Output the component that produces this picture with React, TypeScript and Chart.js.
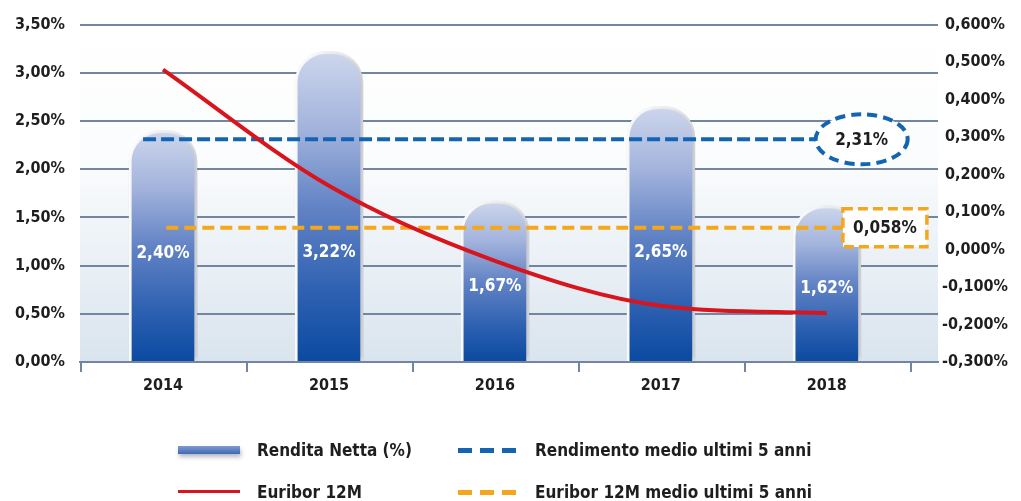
import React, { useEffect, useRef } from 'react';
import { Chart, registerables } from 'chart.js';

Chart.register(...registerables);

// ---------- data ----------
const years = ['2014', '2015', '2016', '2017', '2018'];
const renditaNetta = [2.4, 3.22, 1.67, 2.65, 1.62];
const euribor12M = [0.48, 0.17, -0.03, -0.15, -0.17];
const renditaMedia = 2.31;
const euriborMedio = 0.058;
const leftAxis = { min: 0, max: 3.5, step: 0.5 };
const rightAxis = { min: -0.3, max: 0.6, step: 0.1 };
const legendLabels = [
  'Rendita Netta (%)',
  'Rendimento medio ultimi 5 anni',
  'Euribor 12M',
  'Euribor 12M medio ultimi 5 anni',
];

// ---------- style ----------
const FONT = "'DejaVu Sans Condensed', 'Liberation Sans Narrow', 'DejaVu Sans', sans-serif";
const GRID = '#72879f';
const TEXT = '#1e1e1e';
const BLUE = '#1464b2';
const ORANGE = '#f4a61c';
const RED = '#d8141d';

const fmtComma = (v: number, d: number) => {
  const n = Math.abs(v) < 1e-9 ? 0 : v;
  return n.toFixed(d).replace('.', ',') + '%';
};

const backgroundPlugin = {
  id: 'bgGradient',
  beforeDraw(chart: any) {
    const { ctx, chartArea: a } = chart;
    if (!a) return;
    const g = ctx.createLinearGradient(0, a.top, 0, a.bottom);
    g.addColorStop(0, '#ffffff');
    g.addColorStop(0.4, '#fbfcfd');
    g.addColorStop(1, '#d9e4ee');
    ctx.save();
    ctx.fillStyle = g;
    ctx.fillRect(a.left, a.top, a.right - a.left, a.bottom - a.top);
    ctx.restore();
  },
};

const xTickMarksPlugin = {
  id: 'xTickMarks',
  afterDraw(chart: any) {
    const { ctx, scales } = chart;
    const x = scales.x;
    const bottom = chart.chartArea.bottom;
    ctx.save();
    ctx.strokeStyle = GRID;
    ctx.lineWidth = 2;
    for (let i = 0; i <= years.length; i++) {
      const px = Math.round(x.getPixelForValue(i - 0.5)) + 1;
      ctx.beginPath();
      ctx.moveTo(px, bottom);
      ctx.lineTo(px, bottom + 10);
      ctx.stroke();
    }
    ctx.restore();
  },
};

const barShadowPlugin = {
  id: 'barShadow',
  beforeDatasetDraw(chart: any, args: any) {
    if (args.index !== 0) return;
    const ctx = chart.ctx;
    ctx.save();
    ctx.shadowColor = 'rgba(40,55,80,0.35)';
    ctx.shadowBlur = 9;
    ctx.shadowOffsetX = 4;
    ctx.shadowOffsetY = 1;
  },
  afterDatasetDraw(chart: any, args: any) {
    if (args.index !== 0) return;
    chart.ctx.restore();
  },
};

const overlayPlugin = {
  id: 'overlay',
  afterDatasetsDraw(chart: any) {
    const { ctx, scales } = chart;
    const { x, y, y1 } = scales;
    ctx.save();
    // bar value labels
    const meta = chart.getDatasetMeta(0);
    ctx.fillStyle = '#ffffff';
    ctx.font = `bold 17px ${FONT}`;
    ctx.textAlign = 'center';
    ctx.textBaseline = 'middle';
    renditaNetta.forEach((v, i) => {
      const el = meta.data[i];
      const py = y.getPixelForValue(Math.min(v * 0.47, 1.14));
      ctx.fillText(fmtComma(v, 2), el.x, py);
    });

    // ellipse callout for average yield
    const ex = x.getPixelForValue(4.21);
    const ey = y.getPixelForValue(renditaMedia);
    ctx.beginPath();
    ctx.ellipse(ex, ey, 46, 25, 0, 0, Math.PI * 2);
    ctx.fillStyle = '#ffffff';
    ctx.fill();
    ctx.setLineDash([10, 6]);
    ctx.lineWidth = 4;
    ctx.strokeStyle = BLUE;
    ctx.stroke();
    ctx.setLineDash([]);
    ctx.fillStyle = TEXT;
    ctx.font = `bold 17px ${FONT}`;
    ctx.fillText(fmtComma(renditaMedia, 2), ex, ey + 1);

    // box callout for average euribor
    const bx = x.getPixelForValue(4.35);
    const by = y1.getPixelForValue(euriborMedio);
    const bw = 84;
    const bh = 38;
    ctx.fillStyle = '#ffffff';
    ctx.fillRect(bx - bw / 2, by - bh / 2, bw, bh);
    ctx.setLineDash([10, 5]);
    ctx.lineWidth = 3.5;
    ctx.strokeStyle = ORANGE;
    ctx.strokeRect(bx - bw / 2, by - bh / 2, bw, bh);
    ctx.setLineDash([]);
    ctx.fillStyle = TEXT;
    ctx.fillText(fmtComma(euriborMedio, 3), bx, by + 1);
    ctx.restore();
  },
};

function LegendSwatch({ kind }: { kind: string }) {
  const base: React.CSSProperties = { position: 'absolute', left: 0, width: 62 };
  if (kind === 'bar') {
    return (
      <div
        style={{
          ...base,
          top: -4,
          height: 8,
          background: 'linear-gradient(#7f9bd0, #3f68b0)',
          boxShadow: '1px 3px 4px rgba(40,55,80,0.35)',
        }}
      />
    );
  }
  if (kind === 'line') {
    return <div style={{ ...base, top: -2, height: 3, background: RED }} />;
  }
  const c = kind === 'blue' ? BLUE : ORANGE;
  return (
    <div
      style={{
        ...base,
        left: 2,
        width: 58,
        top: -2.5,
        height: 5,
        background: `repeating-linear-gradient(90deg, ${c} 0 14px, transparent 14px 22px)`,
      }}
    />
  );
}

export default function App() {
  const canvasRef = useRef<HTMLCanvasElement | null>(null);

  useEffect(() => {
    const canvas = canvasRef.current;
    if (!canvas) return;
    const chart = new Chart(canvas, {
      type: 'bar',
      data: {
        datasets: [
          {
            type: 'bar',
            label: legendLabels[0],
            data: years.map((_, i) => ({ x: i, y: renditaNetta[i] })),
            xAxisID: 'x',
            yAxisID: 'y',
            order: 10,
            barThickness: 68,
            borderWidth: 3,
            borderColor: '#ffffff',
            borderSkipped: 'start',
            borderRadius: { topLeft: 31, topRight: 31, bottomLeft: 0, bottomRight: 0 },
            backgroundColor: (c: any) => {
              if (c.type !== 'data' || !c.chart.chartArea) return '#5b7ec2';
              const ys = c.chart.scales.y;
              const top = ys.getPixelForValue(c.parsed.y);
              const bottom = ys.getPixelForValue(0);
              const g = c.chart.ctx.createLinearGradient(0, top, 0, bottom);
              g.addColorStop(0, '#cdd6ec');
              g.addColorStop(0.25, '#a2b3dc');
              g.addColorStop(0.5, '#6283c5');
              g.addColorStop(0.78, '#2d60b1');
              g.addColorStop(1, '#0a4aa0');
              return g;
            },
          } as any,
          {
            type: 'line',
            label: legendLabels[1],
            data: [
              { x: -0.12, y: renditaMedia },
              { x: 4.0, y: renditaMedia },
            ],
            xAxisID: 'x',
            yAxisID: 'y',
            order: 2,
            borderColor: BLUE,
            borderWidth: 4,
            borderDash: [13, 5],
            pointRadius: 0,
            fill: false,
          } as any,
          {
            type: 'line',
            label: legendLabels[3],
            data: [
              { x: 0.02, y: euriborMedio },
              { x: 4.2, y: euriborMedio },
            ],
            xAxisID: 'x',
            yAxisID: 'y1',
            order: 2,
            borderColor: ORANGE,
            borderWidth: 4,
            borderDash: [12, 6],
            pointRadius: 0,
            fill: false,
          } as any,
          {
            type: 'line',
            label: legendLabels[2],
            data: years.map((_, i) => ({ x: i, y: euribor12M[i] })),
            xAxisID: 'x',
            yAxisID: 'y1',
            order: 0,
            borderColor: RED,
            borderWidth: 4,
            pointRadius: 0,
            cubicInterpolationMode: 'monotone',
            fill: false,
          } as any,
        ],
      },
      options: {
        animation: false,
        responsive: false,
        devicePixelRatio: 1,
        layout: { padding: { top: 22, bottom: 99, left: 0, right: 0 } },
        plugins: {
          legend: { display: false },
          tooltip: { enabled: false },
        },
        scales: {
          x: {
            type: 'linear',
            position: 'bottom',
            min: -0.5,
            max: 4.67,
            offset: false,
            afterBuildTicks: (s: any) => {
              s.ticks = years.map((_, i) => ({ value: i }));
            },
            afterFit: (s: any) => {
              s.height = 40;
            },
            grid: { display: false, drawTicks: false },
            border: { display: true, color: GRID, width: 2 },
            ticks: {
              autoSkip: false,
              maxRotation: 0,
              padding: 14,
              color: TEXT,
              font: { family: FONT, size: 16, weight: 'bold' },
              callback: (v: any) => years[Math.round(Number(v))] ?? '',
            },
          },
          y: {
            type: 'linear',
            position: 'left',
            min: leftAxis.min,
            max: leftAxis.max,
            afterFit: (s: any) => {
              s.width = 80;
            },
            grid: { color: GRID, lineWidth: 2, drawTicks: false },
            border: { display: false },
            ticks: {
              stepSize: leftAxis.step,
              padding: 15,
              color: TEXT,
              font: { family: FONT, size: 16, weight: 'bold' },
              callback: (v: any) => fmtComma(Number(v), 2),
            },
          },
          y1: {
            type: 'linear',
            position: 'right',
            min: rightAxis.min,
            max: rightAxis.max,
            afterFit: (s: any) => {
              s.width = 83;
            },
            grid: { display: false, drawTicks: false },
            border: { display: false },
            ticks: {
              stepSize: rightAxis.step,
              padding: 4,
              crossAlign: 'center',
              color: TEXT,
              font: { family: FONT, size: 16, weight: 'bold' },
              callback: (v: any) => fmtComma(Number(v), 3),
            },
          },
        },
      } as any,
      plugins: [backgroundPlugin, barShadowPlugin, overlayPlugin, xTickMarksPlugin],
    });
    return () => chart.destroy();
  }, []);

  const legendItems = [
    { kind: 'bar', label: legendLabels[0], left: 178, top: 450 },
    { kind: 'blue', label: legendLabels[1], left: 456, top: 450 },
    { kind: 'line', label: legendLabels[2], left: 178, top: 492 },
    { kind: 'orange', label: legendLabels[3], left: 456, top: 492 },
  ];

  return (
    <div
      style={{
        position: 'absolute',
        left: 0,
        top: 0,
        width: 1021,
        height: 501,
        background: '#ffffff',
        overflow: 'hidden',
      }}
    >
      <canvas ref={canvasRef} width={1021} height={501} style={{ display: 'block' }} />
      {legendItems.map((it) => (
        <div key={it.label} style={{ position: 'absolute', left: it.left, top: it.top, height: 0 }}>
          <LegendSwatch kind={it.kind} />
          <span
            style={{
              position: 'absolute',
              left: 79,
              top: -11,
              whiteSpace: 'nowrap',
              fontFamily: FONT,
              fontWeight: 'bold',
              fontSize: 17,
              lineHeight: '22px',
              color: TEXT,
            }}
          >
            {it.label}
          </span>
        </div>
      ))}
    </div>
  );
}
